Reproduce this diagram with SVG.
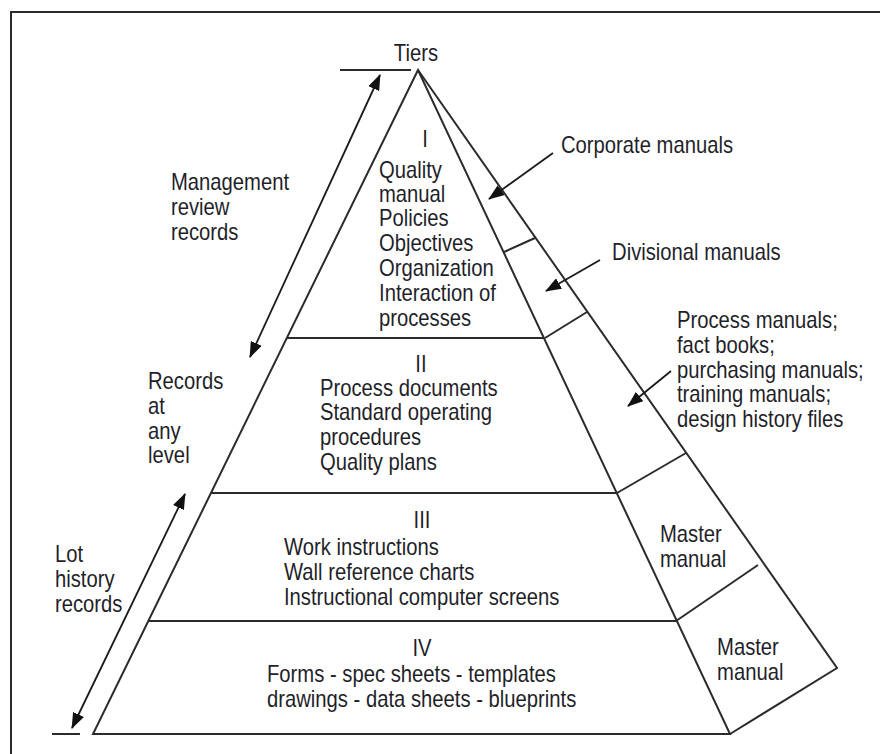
<svg xmlns="http://www.w3.org/2000/svg" width="880" height="754" viewBox="0 0 880 754">
  <style>
    .ln { fill: none; stroke: #2b2b2b; stroke-width: 2; stroke-linejoin: miter; }
    .ar { fill: none; stroke: #1a1a1a; stroke-width: 1.8; }
    text { font-family: "Liberation Sans Narrow", "Liberation Sans", Arial, sans-serif; font-size: 23px; fill: #1f1f2a; }
    .c { text-anchor: middle; }
  </style>
  <defs>
    <marker id="head" markerUnits="userSpaceOnUse" markerWidth="16" markerHeight="12" refX="15" refY="6" orient="auto-start-reverse">
      <path d="M0,0 L16,6 L0,12 z" fill="#111"/>
    </marker>
  </defs>

  <rect width="880" height="754" fill="#fff"/>
  <!-- frame -->
  <path class="ln" d="M11,754 V12 H880"/>

  <!-- pyramid outline -->
  <g id="pyramid">
    <path class="ln" d="M418,70 L93,734 L730,734 Z"/>
    <path class="ln" d="M418,70 L837,668 L730,734"/>
    <line class="ln" x1="340" y1="70" x2="411" y2="70"/>
    <line class="ln" x1="52" y1="734" x2="80" y2="734"/>
  </g>

  <!-- text is set in a condensed face: each label group is squeezed horizontally by 0.88,
       so x positions inside those groups are divided by 0.88 -->
  <g id="tier1">
    <line class="ln" x1="287" y1="338" x2="544" y2="338"/>
    <g transform="scale(0.88 1)">
      <text class="c" x="483" y="147">I</text>
      <text x="430.7" y="178">Quality</text>
      <text x="430.7" y="202">manual</text>
      <text x="430.7" y="226">Policies</text>
      <text x="430.7" y="251">Objectives</text>
      <text x="430.7" y="276">Organization</text>
      <text x="430.7" y="301">Interaction of</text>
      <text x="430.7" y="326">processes</text>
    </g>
  </g>

  <g id="tier2">
    <line class="ln" x1="211" y1="493" x2="617" y2="493"/>
    <g transform="scale(0.88 1)">
      <text class="c" x="478.4" y="372">II</text>
      <text x="363.6" y="396">Process documents</text>
      <text x="363.6" y="420">Standard operating</text>
      <text x="363.6" y="445">procedures</text>
      <text x="363.6" y="470">Quality plans</text>
    </g>
  </g>

  <g id="tier3">
    <line class="ln" x1="148" y1="621" x2="677" y2="621"/>
    <g transform="scale(0.88 1)">
      <text class="c" x="479.5" y="528">III</text>
      <text x="322.7" y="555">Work instructions</text>
      <text x="322.7" y="580">Wall reference charts</text>
      <text x="322.7" y="605">Instructional computer screens</text>
    </g>
  </g>

  <g id="tier4">
    <g transform="scale(0.88 1)">
      <text class="c" x="479.5" y="656">IV</text>
      <text x="303.4" y="682">Forms - spec sheets - templates</text>
      <text x="303.4" y="707">drawings - data sheets - blueprints</text>
    </g>
  </g>

  <!-- side face divisions -->
  <g id="side-corporate">
    <line class="ln" x1="504" y1="252" x2="535" y2="238"/>
    <g transform="scale(0.88 1)">
      <text x="637.5" y="153">Corporate manuals</text>
    </g>
  </g>
  <g id="side-divisional">
    <line class="ln" x1="545" y1="338" x2="587" y2="312"/>
    <g transform="scale(0.88 1)">
      <text x="695.5" y="260">Divisional manuals</text>
    </g>
  </g>
  <g id="side-process">
    <line class="ln" x1="617" y1="493" x2="686" y2="453"/>
    <g transform="scale(0.88 1)">
      <text x="769.3" y="328">Process manuals;</text>
      <text x="769.3" y="353">fact books;</text>
      <text x="769.3" y="378">purchasing manuals;</text>
      <text x="769.3" y="402">training manuals;</text>
      <text x="769.3" y="427">design history files</text>
    </g>
  </g>
  <g id="side-master1">
    <line class="ln" x1="676" y1="621" x2="758" y2="565"/>
    <g transform="scale(0.88 1)">
      <text x="750" y="542">Master</text>
      <text x="750" y="567">manual</text>
    </g>
  </g>
  <g id="side-master2">
    <g transform="scale(0.88 1)">
      <text x="814.8" y="655">Master</text>
      <text x="814.8" y="680">manual</text>
    </g>
  </g>

  <g id="tiers-title">
    <g transform="scale(0.88 1)">
      <text class="c" x="472.7" y="61">Tiers</text>
    </g>
  </g>
  <g id="label-management">
    <g transform="scale(0.88 1)">
      <text x="194.3" y="190">Management</text>
      <text x="194.3" y="215">review</text>
      <text x="194.3" y="240">records</text>
    </g>
  </g>
  <g id="label-records">
    <g transform="scale(0.88 1)">
      <text x="168.2" y="389">Records</text>
      <text x="168.2" y="414">at</text>
      <text x="168.2" y="439">any</text>
      <text x="168.2" y="463">level</text>
    </g>
  </g>
  <g id="label-lot">
    <g transform="scale(0.88 1)">
      <text x="62.5" y="562">Lot</text>
      <text x="62.5" y="587">history</text>
      <text x="62.5" y="612">records</text>
    </g>
  </g>

  <!-- connectors -->
  <g id="connectors">
    <line class="ar" x1="250" y1="357" x2="380" y2="75" marker-start="url(#head)" marker-end="url(#head)"/>
    <line class="ar" x1="72" y1="728" x2="185" y2="494" marker-start="url(#head)" marker-end="url(#head)"/>
    <line class="ar" x1="553" y1="153" x2="489" y2="199" marker-end="url(#head)"/>
    <line class="ar" x1="600" y1="260" x2="546" y2="291" marker-end="url(#head)"/>
    <line class="ar" x1="671" y1="371" x2="628" y2="406" marker-end="url(#head)"/>
  </g>
</svg>
